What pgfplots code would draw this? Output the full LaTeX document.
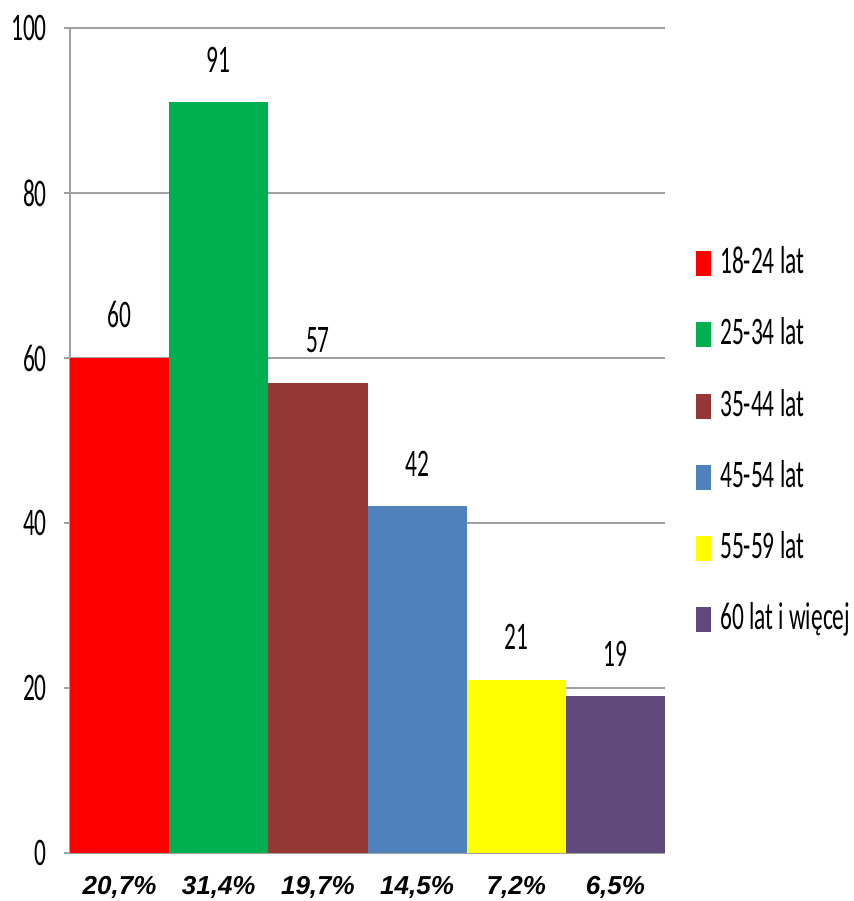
\documentclass[border=0pt]{standalone}
\usepackage{pgfplots}
\pgfplotsset{compat=1.18}
\usepackage{fontspec}
\setmainfont{Carlito}[FakeStretch=0.6]
\newfontfamily\pctfont{Liberation Sans}
\definecolor{c1}{RGB}{255,0,0}
\definecolor{c2}{RGB}{0,176,80}
\definecolor{c3}{RGB}{149,55,53}
\definecolor{c4}{RGB}{79,129,189}
\definecolor{c5}{RGB}{255,255,0}
\definecolor{c6}{RGB}{96,74,123}
\definecolor{gridgray}{RGB}{160,160,160}
\newcommand{\bigfont}{\fontsize{39bp}{40bp}\selectfont}
\begin{document}
\begin{tikzpicture}
\path[use as bounding box] (-70bp,-48bp) rectangle (784bp,853bp);
\begin{axis}[
  at={(0,0)}, anchor=south west,
  width=595bp, height=825bp, scale only axis,
  xmin=-0.5, xmax=5.5, ymin=0, ymax=100,
  ytick={0,20,40,60,80,100},
  xtick={0,1,2,3,4,5},
  xticklabels={{20,7\%},{31,4\%},{19,7\%},{14,5\%},{7,2\%},{6,5\%}},
  /pgf/number format/assume math mode=true,
  axis y line*=left, axis x line*=bottom,
  x axis line style={draw=none},
  y axis line style={draw=gridgray, line width=2bp, -},
  ymajorgrids, major grid style={draw=gridgray, line width=2.2bp},
  tick align=outside,
  major tick length=6bp,
  y tick style={draw=gridgray, line width=2bp},
  x tick style={draw=none},
  yticklabel style={font=\bigfont, inner sep=0pt, xshift=-17bp},
  xticklabel style={font=\pctfont\bfseries\itshape\fontsize{26bp}{27bp}\selectfont, inner sep=0pt, anchor=north, yshift=-17bp},
  ybar, bar width=1,
  nodes near coords,
  every node near coord/.append style={font=\bigfont, inner sep=0pt, anchor=south, yshift=30bp, text=black},
  legend style={at={(1.052,0.5)}, anchor=west, draw=none, fill=none, inner sep=0pt,
    font=\bigfont, row sep=43.7bp,
    nodes={inner sep=0pt, text height=25bp, text depth=0bp},
    /tikz/every odd column/.append style={column sep=9bp}},
  legend cell align=left,
  legend image code/.code={\fill[#1] (0bp,-15bp) rectangle (15bp,10bp);},
]
\addplot[fill=c1, draw=none, bar shift=0pt] coordinates {(0,60)};
\addplot[fill=c2, draw=none, bar shift=0pt] coordinates {(1,91)};
\addplot[fill=c3, draw=none, bar shift=0pt] coordinates {(2,57)};
\addplot[fill=c4, draw=none, bar shift=0pt] coordinates {(3,42)};
\addplot[fill=c5, draw=none, bar shift=0pt] coordinates {(4,21)};
\addplot[fill=c6, draw=none, bar shift=0pt] coordinates {(5,19)};
\legend{18-24 lat, 25-34 lat, 35-44 lat, 45-54 lat, 55-59 lat, 60 lat i więcej}
\end{axis}
\end{tikzpicture}
\end{document}
